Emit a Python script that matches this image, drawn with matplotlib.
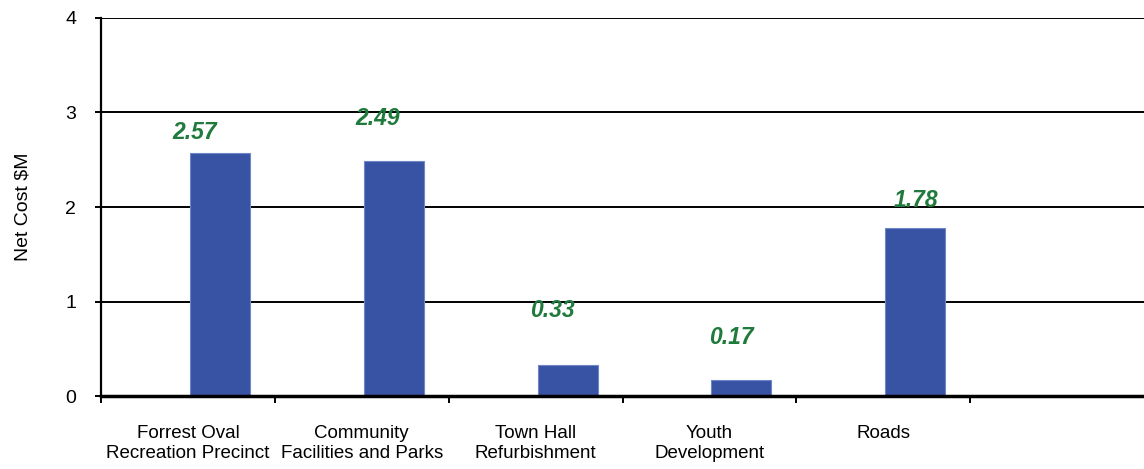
import matplotlib
matplotlib.use("Agg")
import matplotlib.pyplot as plt
import numpy as np
from matplotlib.ticker import FixedLocator

plt.rcParams['font.family'] = ['Liberation Sans', 'DejaVu Sans']

categories = ["Forrest Oval\nRecreation Precinct", "Community\nFacilities and Parks",
              "Town Hall\nRefurbishment", "Youth\nDevelopment", "Roads"]
net_cost = [2.57, 2.49, 0.33, 0.17, 1.78]
value_labels = ["2.57", "2.49", "0.33", "0.17", "1.78"]
n_slots = 6  # one empty slot on the right

# label offsets (pixels) relative to bar top centre, placed by hand in the original
label_dx = [-25, -16, -15, -10, 1]
label_dy = [21, 42, 54, 42, 27]

bar_color = '#3953a4'
label_color = '#1f7a3c'

fig = plt.figure(figsize=(11.44, 4.69), dpi=100)
ax = fig.add_axes([101 / 1144, 73 / 469, 1043 / 1144, 378 / 469])

x = np.arange(len(categories)) + 0.5
bars = ax.bar(x + 0.184, net_cost, width=0.345, color=bar_color,
              edgecolor='#6f86c8', linewidth=0.8, zorder=3)

for b, txt, dx, dy in zip(bars, value_labels, label_dx, label_dy):
    ax.annotate(txt, (b.get_x() + b.get_width() / 2, b.get_height()),
                xytext=(dx * 0.72, dy * 0.72), textcoords='offset points',
                ha='center', va='center', color=label_color,
                fontsize=16.5, fontweight='bold', fontstyle='italic', zorder=4)

ax.set_xlim(0, n_slots)
ax.set_ylim(0, 4)
ax.set_yticks([0, 1, 2, 3, 4])
ax.set_yticklabels(['0', '1', '2', '3', '4'], fontsize=14)
ax.yaxis.grid(True, color='black', linewidth=1.4, zorder=1)

ax.set_xticks(x)
ax.set_xticklabels(categories, fontsize=13.5, linespacing=1.25)
ax.xaxis.set_minor_locator(FixedLocator(np.arange(0, n_slots)))
ax.tick_params(axis='x', which='major', length=0, pad=21)
ax.tick_params(axis='x', which='minor', length=5, width=1.4, direction='out')
ax.tick_params(axis='y', length=4, width=1.4, pad=14)

ax.set_ylabel('Net Cost $M', fontsize=14, labelpad=24)

for side in ['top', 'right']:
    ax.spines[side].set_visible(False)
ax.spines['left'].set_linewidth(1.6)
ax.spines['bottom'].set_linewidth(2.5)
ax.spines['bottom'].set_zorder(5)

fig.savefig('out.png', dpi=100)
